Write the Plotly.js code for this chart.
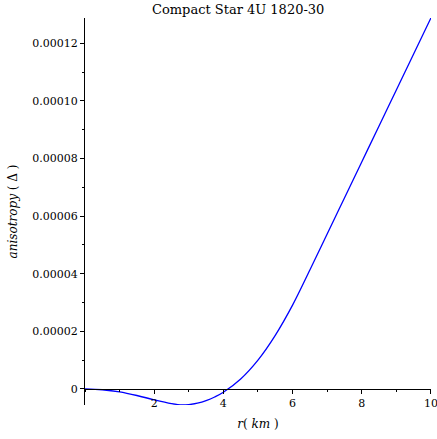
<!DOCTYPE html>
<html>
<head>
<meta charset="utf-8">
<script src="https://cdn.plot.ly/plotly-3.0.1.min.js"></script>
<style>
  html, body { margin: 0; padding: 0; background: #ffffff; }
  #chart { width: 437px; height: 439px; }
</style>
</head>
<body>
<div id="chart"></div>
<script>
// radius r (km)
const radius = [0, 0.5, 1, 1.5, 2, 2.5, 2.8, 3, 3.25, 3.5, 3.75, 4, 4.5, 5, 5.5, 6, 6.5, 7, 7.5, 8, 8.5, 9, 9.5, 10];
// anisotropy Δ
const anisotropy = [0, -0.3e-6, -1.05e-6, -2.3e-6, -3.8e-6, -5.1e-6, -5.6e-6, -5.48e-6, -4.98e-6, -4.1e-6, -2.83e-6, -1.18e-6,
  3.45e-6, 10.0e-6, 18.6e-6, 29.1e-6, 41.3e-6, 53.8e-6, 66.3e-6, 78.8e-6, 91.3e-6, 103.8e-6, 116.3e-6, 128.8e-6];

const xTickVals = [2, 4, 6, 8, 10];
const yTickVals = [0, 0.00002, 0.00004, 0.00006, 0.00008, 0.00010, 0.00012];
const yTickText = ["0", "0.00002", "0.00004", "0.00006", "0.00008", "0.00010", "0.00012"];

const yMin = Math.min(...anisotropy);
const yMax = Math.max(...anisotropy);
const serif = "DejaVu Serif";
const titleFont = { family: serif, size: 13, color: "#000000" };
const tickFont = { family: serif, size: 11, color: "#000000" };
const axisTitleFont = { family: serif, size: 12, color: "#000000" };

const trace = {
  x: radius,
  y: anisotropy,
  type: "scatter",
  mode: "lines",
  line: { color: "#0000ff", width: 1.3, shape: "spline", smoothing: 1 },
  hoverinfo: "skip"
};

const layout = {
  width: 437,
  height: 439,
  margin: { l: 85, r: 6, t: 18, b: 34, pad: 0 },
  paper_bgcolor: "#ffffff",
  plot_bgcolor: "#ffffff",
  showlegend: false,
  font: tickFont,
  title: {
    text: "Compact Star 4U 1820-30",
    font: titleFont,
    xref: "container", x: 0.545, xanchor: "center",
    yref: "container", y: 0.978, yanchor: "middle"
  },
  xaxis: {
    range: [0, 10.002],
    anchor: "free",
    position: -yMin / (yMax - yMin),
    showline: true, linecolor: "#000000", linewidth: 1,
    ticks: "outside", ticklen: 4, tickwidth: 1, tickcolor: "#000000",
    tickvals: xTickVals,
    ticklabeloverflow: "allow",
    minor: { ticks: "outside", ticklen: 2.5, dtick: 1, tickcolor: "#000000", showgrid: false },
    showgrid: false, zeroline: false,
    tickfont: tickFont,
    title: { text: "<i>r</i>( <i>km</i> )", font: axisTitleFont, standoff: 10 }
  },
  yaxis: {
    range: [yMin, yMax],
    showline: true, linecolor: "#000000", linewidth: 1,
    ticks: "outside", ticklen: 4, tickwidth: 1, tickcolor: "#000000",
    tickvals: yTickVals, ticktext: yTickText,
    minor: { ticks: "outside", ticklen: 2, dtick: 0.00001, tickcolor: "#000000", showgrid: false },
    showgrid: false, zeroline: false,
    tickfont: tickFont,
    title: { text: "<i>anisotropy</i> ( Δ )", font: axisTitleFont, standoff: 12 }
  }
};

Plotly.newPlot("chart", [trace], layout, { displayModeBar: false, staticPlot: true });
</script>
</body>
</html>
